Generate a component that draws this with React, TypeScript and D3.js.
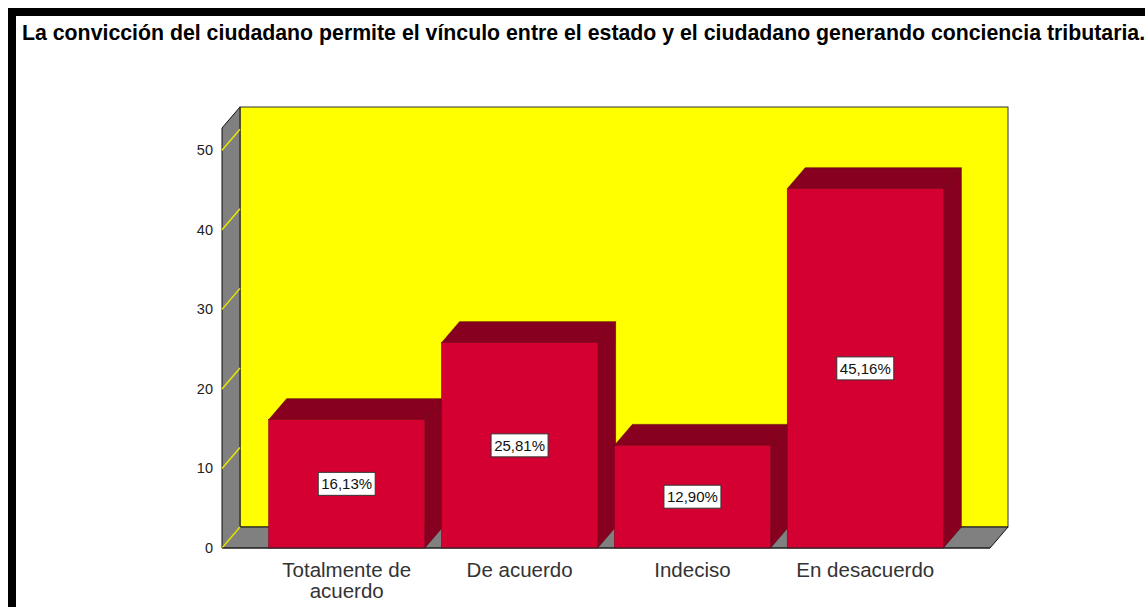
import * as d3 from "d3";

const title =
  "La convicción del ciudadano permite el vínculo entre el estado y el ciudadano generando conciencia tributaria.";
const categories = ["Totalmente de acuerdo", "De acuerdo", "Indeciso", "En desacuerdo"];
const categoryLines = [["Totalmente de", "acuerdo"], ["De acuerdo"], ["Indeciso"], ["En desacuerdo"]];
const percentages = [16.13, 25.81, 12.9, 45.16];
const percentLabels = ["16,13%", "25,81%", "12,90%", "45,16%"];
const yTicks = [0, 10, 20, 30, 40, 50];

const W = 1145;
const H = 607;
// front plane of the 3D box
const plot = { left: 222, right: 990, top: 128, bottom: 548 };
// depth offset toward the back wall
const dx = 18;
const dy = 21;

const font = "'Liberation Sans', Arial, sans-serif";
const barFront = "#d50032";
const barDark = "#87001f";
const wallGray = "#808080";
const wallYellow = "#ffff00";

export default function App() {
  const y = d3.scaleLinear().domain([0, 52.8]).range([plot.bottom, plot.top]);
  const x = d3
    .scaleBand<string>()
    .domain(categories)
    .range([plot.left, plot.right])
    .paddingInner(0.097)
    .paddingOuter(0.27);

  const pts = (p: [number, number][]) => p.map((d) => d.join(",")).join(" ");
  const bw = x.bandwidth();

  return (
    <svg
      width={W}
      height={H}
      style={{ position: "absolute", left: 0, top: 0, background: "#fff" }}
      fontFamily={font}
    >
      {/* outer black frame */}
      <rect x={12} y={12} width={W + 20} height={H + 20} fill="#fff" stroke="#000" strokeWidth={8} />

      <text x={22} y={40} fontSize={21.3} fontWeight="bold" fill="#000">
        {title}
      </text>

      {/* back wall */}
      <rect
        x={plot.left + dx}
        y={plot.top - dy}
        width={plot.right - plot.left}
        height={plot.bottom - plot.top}
        fill={wallYellow}
        stroke="#333"
        strokeWidth={1}
      />
      {/* left wall */}
      <polygon
        points={pts([
          [plot.left, plot.bottom],
          [plot.left, plot.top],
          [plot.left + dx, plot.top - dy],
          [plot.left + dx, plot.bottom - dy],
        ])}
        fill={wallGray}
        stroke="#111"
        strokeWidth={1}
      />
      {/* floor */}
      <polygon
        points={pts([
          [plot.left, plot.bottom],
          [plot.left + dx, plot.bottom - dy],
          [plot.right + dx, plot.bottom - dy],
          [plot.right, plot.bottom],
        ])}
        fill={wallGray}
        stroke="#111"
        strokeWidth={1}
      />

      {/* grid lines on the left wall + tick labels */}
      {yTicks.map((t) => (
        <g key={t}>
          <line
            x1={plot.left}
            y1={y(t)}
            x2={plot.left + dx}
            y2={y(t) - dy}
            stroke="#e6e600"
            strokeWidth={1.5}
          />
          <text
            x={213}
            y={y(t)}
            textAnchor="end"
            dominantBaseline="central"
            fontSize={14.5}
            fill="#222"
          >
            {t}
          </text>
        </g>
      ))}

      {/* bars */}
      {categories.map((c, i) => {
        const x0 = x(c)!;
        const x1 = x0 + bw;
        const yt = y(percentages[i]);
        const yb = y(0);
        const cx = x0 + bw / 2;
        const cy = (yt + yb) / 2;
        return (
          <g key={c}>
            <polygon
              points={pts([
                [x1, yb],
                [x1, yt],
                [x1 + dx, yt - dy],
                [x1 + dx, yb - dy],
              ])}
              fill={barDark}
              stroke="#5a0014"
              strokeWidth={0.6}
            />
            <polygon
              points={pts([
                [x0, yt],
                [x0 + dx, yt - dy],
                [x1 + dx, yt - dy],
                [x1, yt],
              ])}
              fill={barDark}
              stroke="#5a0014"
              strokeWidth={0.6}
            />
            <rect x={x0} y={yt} width={bw} height={yb - yt} fill={barFront} stroke="#8a0020" strokeWidth={0.6} />
            <rect x={cx - 28.5} y={cy - 11.5} width={57} height={23} fill="#fff" stroke="#333" strokeWidth={1} />
            <text x={cx} y={cy} textAnchor="middle" dominantBaseline="central" fontSize={15} fill="#111">
              {percentLabels[i]}
            </text>
          </g>
        );
      })}

      {/* front edge of the floor */}
      <line x1={plot.left} y1={plot.bottom} x2={plot.right} y2={plot.bottom} stroke="#222" strokeWidth={1} />

      {/* category labels */}
      {categories.map((c, i) => (
        <text key={c} x={x(c)! + bw / 2} textAnchor="middle" fontSize={20.5} fill="#333">
          {categoryLines[i].map((line, j) => (
            <tspan key={j} x={x(c)! + bw / 2} y={577 + j * 21}>
              {line}
            </tspan>
          ))}
        </text>
      ))}
    </svg>
  );
}
